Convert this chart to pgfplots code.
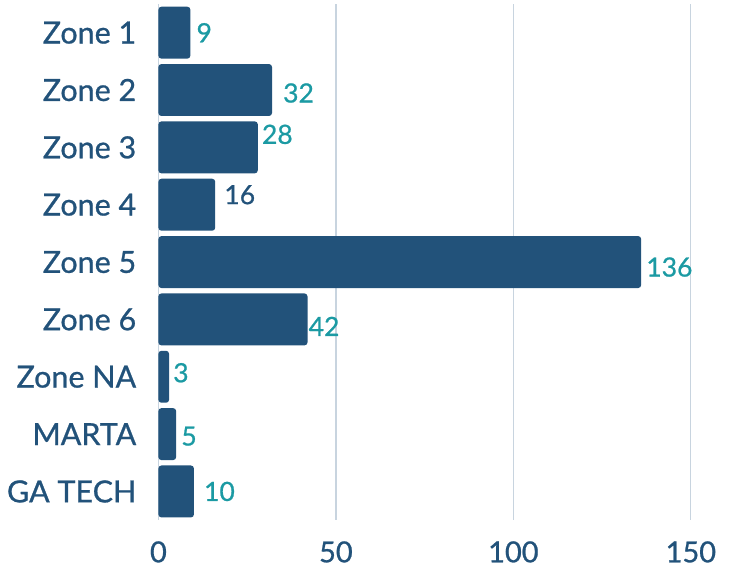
\documentclass[border=0pt]{standalone}
\usepackage{pgfplots}
\pgfplotsset{compat=1.18}
\usepackage{pgfplotstable}
\usepackage{fontspec}
\setmainfont{Lato}[FakeBold=0.8]
\definecolor{navy}{HTML}{22527A}
\definecolor{valteal}{HTML}{1B9AA3}
\definecolor{gridc}{HTML}{C8D4DF}

% idx = row (top to bottom), val = count, dx/dy = label nudge in pt, c = 1 for navy label
\pgfplotstableread{
idx val dx dy c
0 9   6  0   0
1 32  11 -3  0
2 28  4  13  0
3 16  9  10  1
4 136 5  -5  0
5 42  1  -7  0
6 3   4  4   0
7 5   5  -2  0
8 10  10 0   0
}\zonedata

\begin{document}
\begin{tikzpicture}
\begin{axis}[
    scale only axis,
    width=572pt, height=516.6pt,
    xbar, bar width=52pt, bar shift=0pt,
    xmin=0, xmax=161,
    ymin=-0.5, ymax=8.5, y dir=reverse,
    ytick={0,...,8},
    yticklabels={Zone 1,Zone 2,Zone 3,Zone 4,Zone 5,Zone 6,Zone NA,MARTA,GA TECH},
    xtick={0,50,100,150},
    xmajorgrids, ymajorgrids=false,
    grid style={color=gridc, line width=1.2pt},
    axis line style={draw=none},
    major tick length=0pt,
    /pgf/number format/assume math mode=true,
    yticklabel style={font=\fontsize{30.5}{36}\selectfont, text=navy, inner ysep=0pt, inner xsep=7pt, xshift=-15pt},
    xticklabel style={font=\fontsize{29}{34}\selectfont, text=navy, inner xsep=0pt, inner ysep=6pt, yshift=-15pt},
    clip=false,
]
\addplot[fill=navy, draw=none, rounded corners=3pt,
    point meta=x,
    visualization depends on={\thisrow{c} \as \labc},
    visualization depends on={\thisrow{dx} \as \dx},
    visualization depends on={\thisrow{dy} \as \dy},
    nodes near coords={\ifdim\labc pt>0.5pt\color{navy}\else\color{valteal}\fi\pgfmathprintnumber{\pgfplotspointmeta}},
    every node near coord/.append style={anchor=west, inner sep=0pt,
        font=\fontsize{26.5}{31}\selectfont,
        xshift=\dx pt, yshift=\dy pt}]
    table[x=val, y=idx] {\zonedata};
\end{axis}
% a little room above the plot area, as in the reference
\path (current axis.north west) ++(0,4pt);
\end{tikzpicture}
\end{document}
